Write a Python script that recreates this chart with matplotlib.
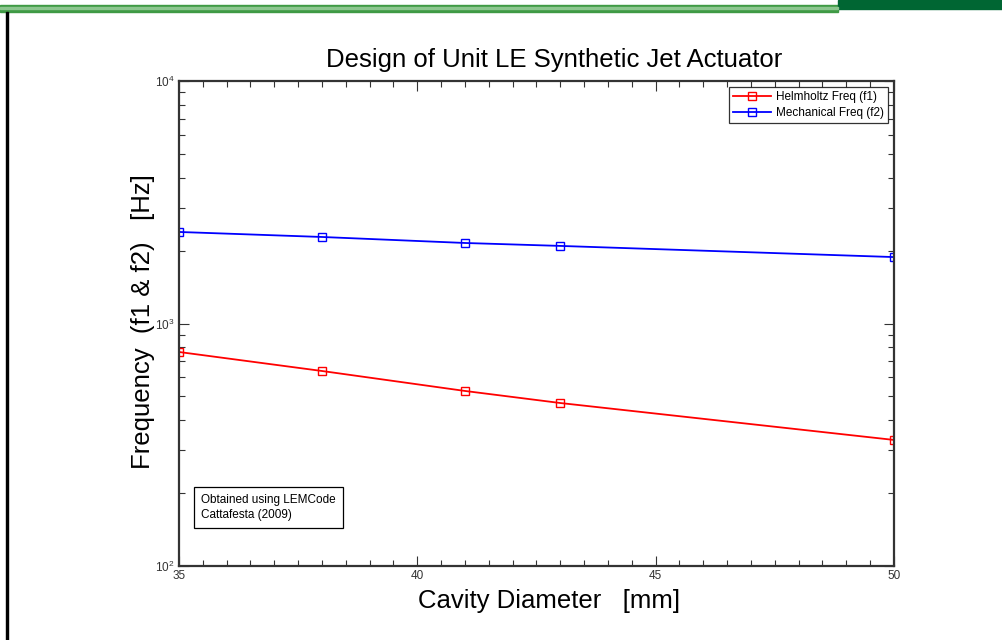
import matplotlib
matplotlib.use("Agg")
import matplotlib.pyplot as plt
from matplotlib.ticker import FixedLocator, LogLocator, NullFormatter
from matplotlib.patches import Rectangle

diameter = [35, 38, 41, 43, 50]
helmholtz = [763, 637, 527, 470, 331]
mechanical = [2385, 2274, 2148, 2089, 1879]
xticks = [35, 40, 45, 50]

font = ['Liberation Sans Narrow', 'Liberation Sans', 'DejaVu Sans']
plt.rcParams['font.family'] = font

fig = plt.figure(figsize=(10.03, 6.40), dpi=100)
W, H = 1003, 640

# decorations: top green bar, left black line, dark green block
fig.patches.append(Rectangle((0, 1 - 12 / H), 838 / W, 7 / H, transform=fig.transFigure,
                             color='#3f9a45', zorder=0))
fig.patches.append(Rectangle((0, 1 - 9 / H), 838 / W, 2 / H, transform=fig.transFigure,
                             color='#8cc68f', zorder=1))
fig.patches.append(Rectangle((838 / W, 1 - 9 / H), (W - 838) / W, 9 / H, transform=fig.transFigure,
                             color='#006633', zorder=0))
fig.patches.append(Rectangle((6 / W, 0), 2 / W, 1 - 12 / H, transform=fig.transFigure,
                             color='black', zorder=0))

ax = fig.add_axes([179 / W, 1 - 566 / H, (894 - 179) / W, (566 - 81) / H])
ax.plot(diameter, helmholtz, color='red', marker='s', markersize=6, markerfacecolor='none',
        markeredgewidth=1.0, linewidth=1.3, label='Helmholtz Freq (f1)')
ax.plot(diameter, mechanical, color='blue', marker='s', markersize=6, markerfacecolor='none',
        markeredgewidth=1.0, linewidth=1.3, label='Mechanical Freq (f2)')
ax.set_yscale('log')
ax.set_xlim(35, 50)
ax.set_ylim(100, 10000)
ax.xaxis.set_major_locator(FixedLocator(xticks))
ax.xaxis.set_minor_locator(FixedLocator([35 + 0.5 * i for i in range(31)]))
ax.set_xticklabels([str(t) for t in xticks])
ax.yaxis.set_minor_locator(LogLocator(base=10, subs=range(2, 10)))
ax.yaxis.set_minor_formatter(NullFormatter())
ax.tick_params(which='both', direction='in', top=True, right=True, labelsize=8.5,
               labelcolor='#333333', color='#333333')
ax.tick_params(which='major', length=7, width=0.8, pad=3)
ax.tick_params(which='minor', length=4, width=0.8)
for s in ax.spines.values():
    s.set_linewidth(1.6)
    s.set_color('#333333')

ax.set_title('Design of Unit LE Synthetic Jet Actuator', fontsize=18.5, pad=10, x=0.524)
ax.set_xlabel('Cavity Diameter   [mm]', fontsize=18.5, labelpad=4)
ax.xaxis.set_label_coords(0.518, -0.048)
ax.xaxis.label.set_va('top')
ax.set_ylabel('Frequency  (f1 & f2)   [Hz]', fontsize=18.5)
ax.yaxis.set_label_coords(-0.034, 0.505)

leg = ax.legend(loc='upper right', fontsize=8.5, frameon=True, fancybox=False,
                edgecolor='black', borderpad=0.35, labelspacing=0.35, handlelength=3.2,
                handletextpad=0.4, borderaxespad=0.5)
leg.get_frame().set_linewidth(0.9)

ax.text(0.031, 0.148, 'Obtained using LEMCode\nCattafesta (2009)', transform=ax.transAxes,
        fontsize=8.5, va='top', ha='left', linespacing=1.3,
        bbox=dict(boxstyle='square,pad=0.6', facecolor='white', edgecolor='black', linewidth=0.9))

fig.savefig('out.png', dpi=100)
